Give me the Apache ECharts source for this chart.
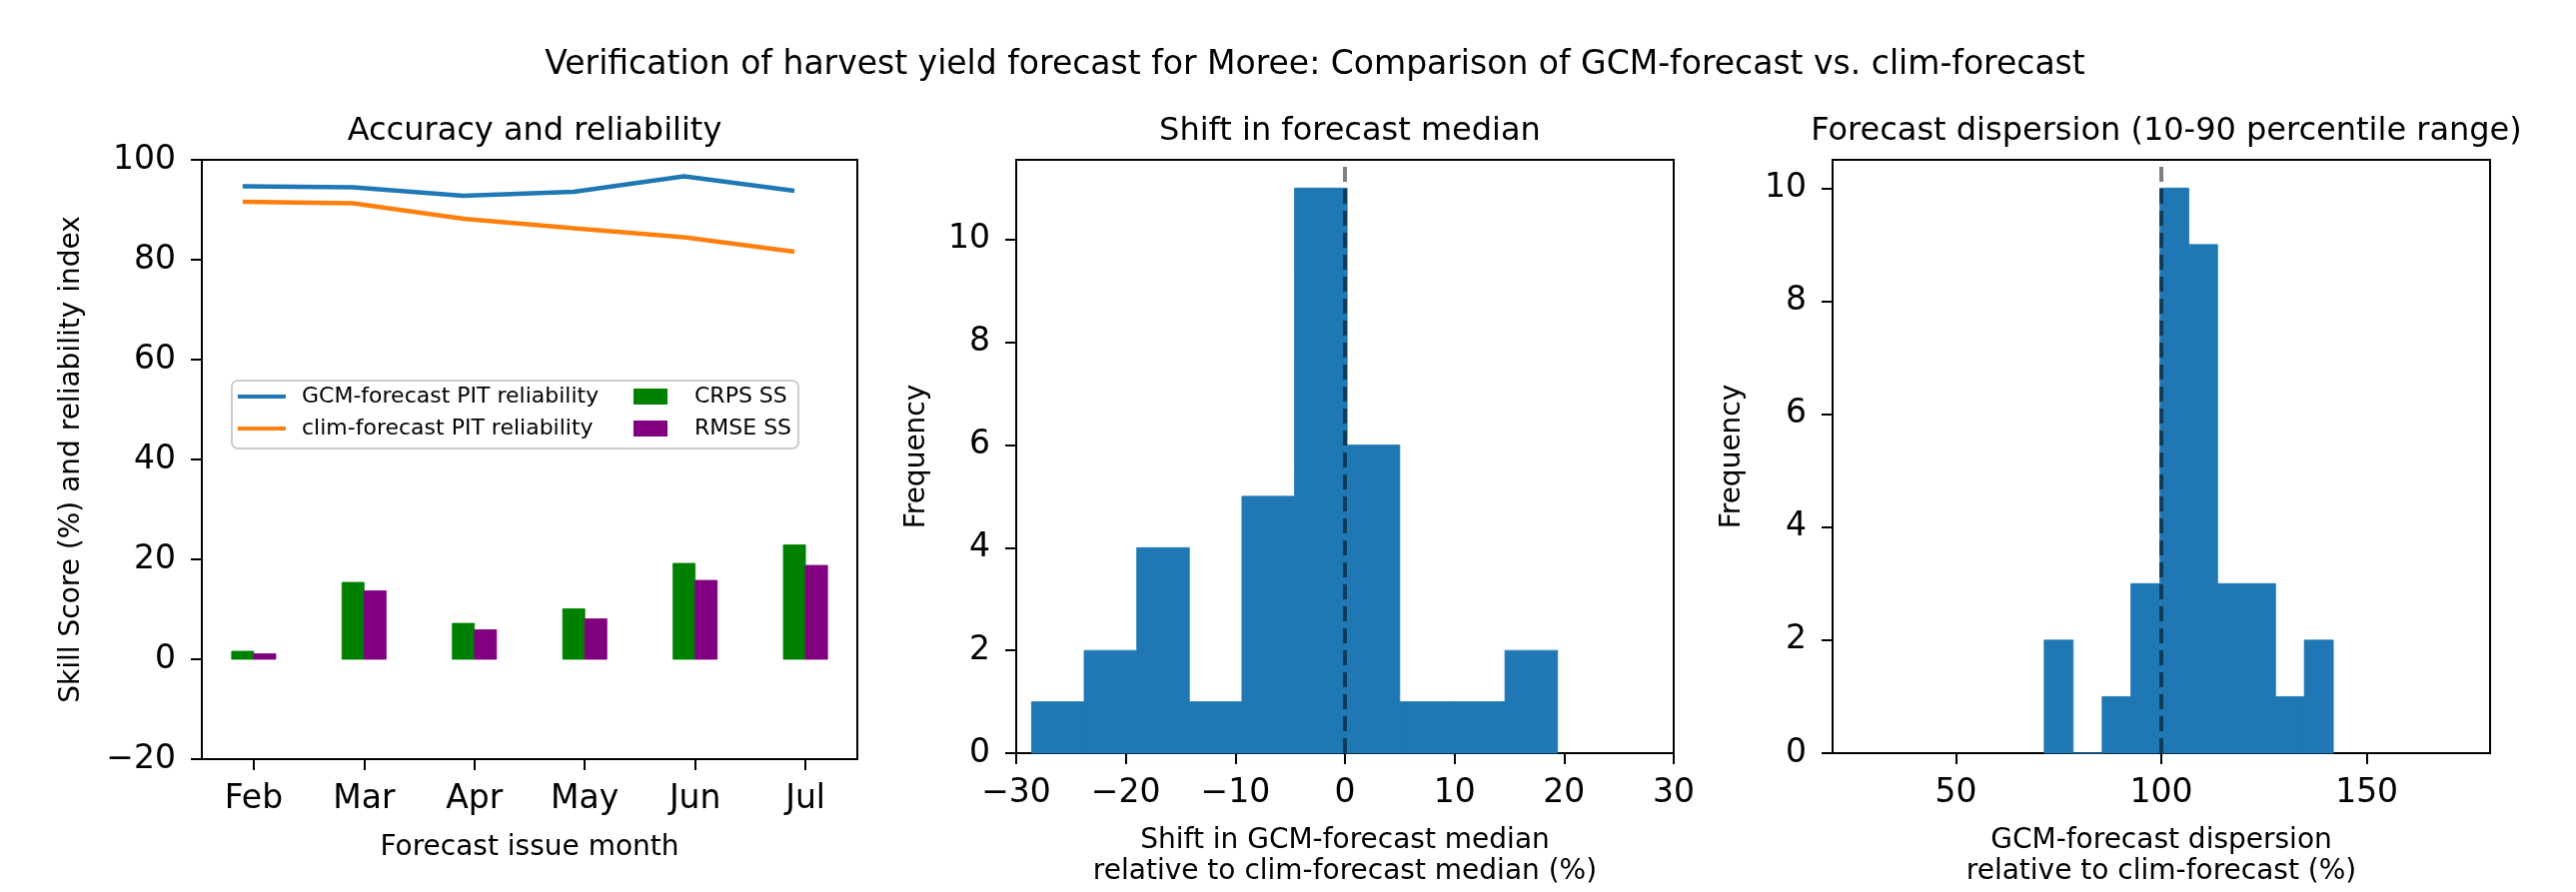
<!DOCTYPE html>
<html>
<head>
<meta charset="utf-8">
<script src="https://cdn.jsdelivr.net/npm/echarts@6/dist/echarts.min.js"></script>
<style>
  html, body { margin: 0; padding: 0; background: #fff; }
  #chart { width: 2578px; height: 893px; }
</style>
</head>
<body>
<div id="chart"></div>
<script>
// Forecast issue months (left panel categories)
const months = ['Feb', 'Mar', 'Apr', 'May', 'Jun', 'Jul'];

// PIT reliability index (%)
const gcmReliability  = [94.7, 94.5, 92.8, 93.6, 96.7, 93.8];
const climReliability = [91.6, 91.3, 88.2, 86.3, 84.5, 81.6];

// Skill scores (%) of GCM-forecast against clim-forecast
const crpsSS = [1.6, 15.4, 7.2, 10.1, 19.2, 22.9];
const rmseSS = [1.1, 13.7, 5.9, 8.1, 15.8, 18.8];

// Histogram: shift in GCM-forecast median (%), bin edges and counts
const shiftEdges  = [-28.6, -23.8, -19.0, -14.2, -9.4, -4.6, 0.2, 5.0, 9.8, 14.6, 19.4];
const shiftCounts = [1, 2, 4, 1, 5, 11, 6, 1, 1, 2];

// Histogram: GCM-forecast dispersion relative to clim-forecast (%)
const dispEdges  = [71.5, 78.55, 85.6, 92.6, 99.65, 106.7, 113.7, 120.75, 127.8, 134.8, 141.85];
const dispCounts = [2, 0, 1, 3, 10, 9, 3, 3, 1, 2];

// Tick labels
const leftYTicks = [-20, 0, 20, 40, 60, 80, 100];
const shiftXTicks = [-30, -20, -10, 0, 10, 20, 30];
const dispXTicks = [50, 100, 150];
const freqTicks = [0, 2, 4, 6, 8, 10];

// Reference values for the dashed vertical lines
const SHIFT_REF = 0;
const DISP_REF = 100;

const FONT = 'DejaVu Sans';
const BLUE = '#1f77b4', ORANGE = '#ff7f0e', GREEN = '#008000', PURPLE = '#800080';
const BAR_W = 0.2;        // width of each skill-score bar, in category units
const LINE_SHIFT = -0.1;  // reliability lines sit over the CRPS bars

const minus = v => (v < 0 ? '\u2212' + Math.abs(v) : String(v));

const grids = [
  { left: 202, top: 160, width: 656, height: 600 },
  { left: 1017, top: 160, width: 658, height: 600 },
  { left: 1834, top: 160, width: 658, height: 600 }
].map(g => Object.assign(g, { show: true, borderColor: '#000', borderWidth: 2, containLabel: false }));

const axisCommon = {
  axisLine: { show: true, onZero: false, lineStyle: { color: '#000', width: 2 } },
  axisTick: { show: true, length: 11, lineStyle: { color: '#000', width: 2 } },
  splitLine: { show: false },
  nameLocation: 'middle',
  nameTextStyle: { fontFamily: FONT, fontSize: 28, color: '#000', lineHeight: 31 }
};
const xLabel = { fontFamily: FONT, fontSize: 33, color: '#000', margin: 24 };
const yLabel = { fontFamily: FONT, fontSize: 33, color: '#000', margin: 26 };

// Rectangles for bars/histograms drawn through the axis scales
function histItem(params, api) {
  const a = api.coord([api.value(0), api.value(2)]);
  const b = api.coord([api.value(1), 0]);
  const c = api.visual('color');
  return {
    type: 'rect',
    shape: { x: a[0], y: a[1], width: b[0] - a[0], height: b[1] - a[1] },
    style: { fill: c, stroke: c, lineWidth: 0.8 }
  };
}
const histData = (edges, counts) => counts.map((c, i) => [edges[i], edges[i + 1], c]);
const barData = (vals, from, to) => vals.map((v, i) => [i + from, i + to, v]);

const option = {
  animation: false,
  backgroundColor: '#fff',
  title: [
    { text: 'Verification of harvest yield forecast for Moree: Comparison of GCM-forecast vs. clim-forecast',
      left: 1311, top: 44, textAlign: 'center',
      textStyle: { fontFamily: FONT, fontSize: 33, fontWeight: 'normal', color: '#000' } },
    { text: 'Accuracy and reliability', left: 530, top: 111, textAlign: 'center',
      textStyle: { fontFamily: FONT, fontSize: 32, fontWeight: 'normal', color: '#000' } },
    { text: 'Shift in forecast median', left: 1346, top: 111, textAlign: 'center',
      textStyle: { fontFamily: FONT, fontSize: 32, fontWeight: 'normal', color: '#000' } },
    { text: 'Forecast dispersion (10-90 percentile range)', left: 2163, top: 111, textAlign: 'center',
      textStyle: { fontFamily: FONT, fontSize: 32, fontWeight: 'normal', color: '#000' } }
  ],
  grid: grids,
  graphic: [{
    type: 'rect', z: 3,
    shape: { x: 232, y: 381, width: 567, height: 68, r: 6 },
    style: { fill: 'rgba(255,255,255,0.8)', stroke: '#cccccc', lineWidth: 2 }
  }],
  legend: [
    { data: ['GCM-forecast PIT reliability', 'clim-forecast PIT reliability'],
      orient: 'vertical', left: 238, top: 386, itemWidth: 48, itemHeight: 4, itemGap: 10,
      icon: 'rect', padding: 0, z: 5,
      textStyle: { fontFamily: FONT, fontSize: 22, color: '#000', lineHeight: 22, padding: [0, 0, 0, 11] } },
    { data: ['CRPS SS', 'RMSE SS'],
      orient: 'vertical', left: 634, top: 386, itemWidth: 34, itemHeight: 16, itemGap: 10,
      icon: 'rect', padding: 0, z: 5,
      textStyle: { fontFamily: FONT, fontSize: 22, color: '#000', lineHeight: 22, padding: [0, 0, 0, 22] } }
  ],
  xAxis: [
    Object.assign({}, axisCommon, {
      gridIndex: 0, type: 'value', min: -0.47, max: 5.47,
      name: 'Forecast issue month', nameGap: 73,
      axisTick: Object.assign({}, axisCommon.axisTick, { customValues: months.map((m, i) => i) }),
      axisLabel: Object.assign({}, xLabel, { customValues: months.map((m, i) => i), formatter: v => months[Math.round(v)] })
    }),
    Object.assign({}, axisCommon, {
      gridIndex: 1, type: 'value', min: -30, max: 30, interval: 10,
      name: 'Shift in GCM-forecast median\nrelative to clim-forecast median (%)', nameGap: 72,
      axisLabel: Object.assign({}, xLabel, { formatter: minus })
    }),
    Object.assign({}, axisCommon, {
      gridIndex: 2, type: 'value', min: 20, max: 180,
      name: 'GCM-forecast dispersion\nrelative to clim-forecast (%)', nameGap: 72,
      axisTick: Object.assign({}, axisCommon.axisTick, { customValues: dispXTicks }),
      axisLabel: Object.assign({}, xLabel, { customValues: dispXTicks })
    })
  ],
  yAxis: [
    Object.assign({}, axisCommon, {
      gridIndex: 0, type: 'value', min: -20, max: 100, interval: 20,
      name: 'Skill Score (%) and reliability index', nameGap: 115,
      axisLabel: Object.assign({}, yLabel, { formatter: minus })
    }),
    Object.assign({}, axisCommon, {
      gridIndex: 1, type: 'value', min: 0, max: 11.55,
      name: 'Frequency', nameGap: 84,
      axisTick: Object.assign({}, axisCommon.axisTick, { customValues: freqTicks }),
      axisLabel: Object.assign({}, yLabel, { customValues: freqTicks })
    }),
    Object.assign({}, axisCommon, {
      gridIndex: 2, type: 'value', min: 0, max: 10.5,
      name: 'Frequency', nameGap: 85,
      axisTick: Object.assign({}, axisCommon.axisTick, { customValues: freqTicks }),
      axisLabel: Object.assign({}, yLabel, { customValues: freqTicks })
    })
  ],
  series: [
    { name: 'CRPS SS', type: 'custom', xAxisIndex: 0, yAxisIndex: 0,
      itemStyle: { color: GREEN }, encode: { x: [0, 1], y: 2 },
      renderItem: histItem, data: barData(crpsSS, -BAR_W, 0) },
    { name: 'RMSE SS', type: 'custom', xAxisIndex: 0, yAxisIndex: 0,
      itemStyle: { color: PURPLE }, encode: { x: [0, 1], y: 2 },
      renderItem: histItem, data: barData(rmseSS, 0, BAR_W) },
    { name: 'GCM-forecast PIT reliability', type: 'line', xAxisIndex: 0, yAxisIndex: 0,
      symbol: 'none', itemStyle: { color: BLUE }, lineStyle: { color: BLUE, width: 4.5 },
      data: gcmReliability.map((v, i) => [i + LINE_SHIFT, v]) },
    { name: 'clim-forecast PIT reliability', type: 'line', xAxisIndex: 0, yAxisIndex: 0,
      symbol: 'none', itemStyle: { color: ORANGE }, lineStyle: { color: ORANGE, width: 4.5 },
      data: climReliability.map((v, i) => [i + LINE_SHIFT, v]) },

    { name: 'shift', type: 'custom', xAxisIndex: 1, yAxisIndex: 1,
      itemStyle: { color: BLUE }, encode: { x: [0, 1], y: 2 },
      renderItem: histItem, data: histData(shiftEdges, shiftCounts) },
    { name: 'shiftRef', type: 'line', xAxisIndex: 1, yAxisIndex: 1, symbol: 'none', z: 5,
      lineStyle: { color: 'rgba(0,0,0,0.5)', width: 4, type: [15, 7] },
      data: [[SHIFT_REF, 0], [SHIFT_REF, 11.55]] },

    { name: 'dispersion', type: 'custom', xAxisIndex: 2, yAxisIndex: 2,
      itemStyle: { color: BLUE }, encode: { x: [0, 1], y: 2 },
      renderItem: histItem, data: histData(dispEdges, dispCounts) },
    { name: 'dispRef', type: 'line', xAxisIndex: 2, yAxisIndex: 2, symbol: 'none', z: 5,
      lineStyle: { color: 'rgba(0,0,0,0.5)', width: 4, type: [15, 7] },
      data: [[DISP_REF, 0], [DISP_REF, 10.5]] }
  ]
};

const chart = echarts.init(document.getElementById('chart'), null, { renderer: 'canvas' });
chart.setOption(option);
</script>
</body>
</html>
